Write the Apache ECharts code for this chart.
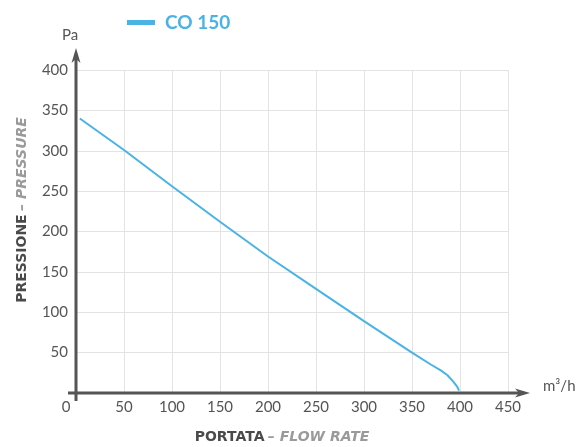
<!DOCTYPE html>
<html>
<head>
<meta charset="utf-8">
<script src="https://cdn.jsdelivr.net/npm/echarts@6/dist/echarts.min.js"></script>
<style>
html,body{margin:0;padding:0;background:#fff;}
#c{width:579px;height:447px;}
</style>
</head>
<body>
<div id="c"></div>
<script>
var seriesName = 'CO 150';
var flowRate = [4, 50, 100, 150, 200, 250, 300, 350, 370, 380, 387, 393, 397, 399];
var pressure = [340, 301, 256, 212, 169, 129, 89, 50, 35, 28, 22, 14, 8, 3];
var xTicks = [0, 50, 100, 150, 200, 250, 300, 350, 400, 450];
var yTicks = [0, 50, 100, 150, 200, 250, 300, 350, 400];
var xUnit = 'm³/h';
var yUnit = 'Pa';
var xTitle = ['PORTATA', '– FLOW RATE'];
var yTitle = ['PRESSIONE', '– PRESSURE'];

var FONT = 'Lato';
var TFONT = 'DejaVu Sans';
var BLUE = '#4ab3e5';
var AX = '#555555';

var chart = echarts.init(document.getElementById('c'));
var option = {
  animation: false,
  backgroundColor: '#ffffff',
  textStyle: {fontFamily: FONT},
  legend: {
    left: 122, top: 8,
    icon: 'rect', itemWidth: 28, itemHeight: 5, itemGap: 10,
    textStyle: {color: BLUE, fontSize: 19, fontWeight: 'bold', fontFamily: FONT, padding: [0, 0, 0, 5]},
    data: [seriesName]
  },
  grid: {left: 76, right: 71, top: 70, bottom: 54, containLabel: false},
  xAxis: {
    type: 'value', min: xTicks[0], max: xTicks[xTicks.length - 1], interval: 50,
    axisLine: {show: false}, axisTick: {show: false},
    splitLine: {show: true, lineStyle: {color: '#e3e3e3', width: 1}},
    axisLabel: {
      color: AX, fontSize: 15, margin: 7, fontFamily: FONT,
      formatter: function (v) { return v === 0 ? '{z|0}' : String(v); },
      rich: {z: {color: AX, fontSize: 15, fontFamily: FONT, padding: [0, 20, 0, 0]}}
    }
  },
  yAxis: {
    type: 'value', min: yTicks[0], max: yTicks[yTicks.length - 1], interval: 50,
    axisLine: {show: false}, axisTick: {show: false},
    splitLine: {show: true, lineStyle: {color: '#e3e3e3', width: 1}},
    axisLabel: {
      color: AX, fontSize: 15, margin: 8, fontFamily: FONT,
      formatter: function (v) { return v === 0 ? '' : String(v); }
    }
  },
  series: [{
    name: seriesName, type: 'line', showSymbol: false, symbol: 'none',
    lineStyle: {color: BLUE, width: 2}, itemStyle: {color: BLUE},
    data: flowRate.map(function (x, i) { return [x, pressure[i]]; })
  }]
};
chart.setOption(option);

var o = chart.convertToPixel({gridIndex: 0}, [0, 0]);
var pTop = chart.convertToPixel({gridIndex: 0}, [0, 400]);
var pRight = chart.convertToPixel({gridIndex: 0}, [450, 0]);
var xEnd = pRight[0] + 22, yEnd = pTop[1] - 22;
var titleRich = {
  a: {fill: '#4a4a4a', fontSize: 14, fontWeight: 'bold', fontFamily: TFONT},
  b: {fill: '#9a9a9a', fontSize: 14, fontWeight: 'bold', fontStyle: 'italic', fontFamily: TFONT}
};
chart.setOption({
  graphic: [
    {type: 'line', shape: {x1: o[0] - 8, y1: o[1], x2: xEnd - 6, y2: o[1]}, style: {stroke: AX, lineWidth: 3}},
    {type: 'line', shape: {x1: o[0], y1: o[1] + 8, x2: o[0], y2: yEnd + 6}, style: {stroke: AX, lineWidth: 3}},
    {type: 'polygon', shape: {points: [[xEnd, o[1]], [xEnd - 15, o[1] - 4.5], [xEnd - 11, o[1]], [xEnd - 15, o[1] + 4.5]]}, style: {fill: AX}},
    {type: 'polygon', shape: {points: [[o[0], yEnd], [o[0] - 4.5, yEnd + 15], [o[0], yEnd + 11], [o[0] + 4.5, yEnd + 15]]}, style: {fill: AX}},
    {type: 'text', x: o[0] - 6, y: yEnd - 5, style: {text: yUnit, fill: AX, fontSize: 15, fontFamily: FONT, align: 'center', verticalAlign: 'bottom'}},
    {type: 'text', x: xEnd + 13, y: o[1] - 7, style: {text: xUnit, fill: AX, fontSize: 15, fontFamily: FONT, align: 'left', verticalAlign: 'middle'}},
    {type: 'text', x: 282, y: 437, style: {
      text: '{a|' + xTitle[0] + '} {b|' + xTitle[1] + '}', align: 'center', verticalAlign: 'middle', rich: titleRich
    }},
    {type: 'text', x: 22, y: 210, rotation: Math.PI / 2, style: {
      text: '{a|' + yTitle[0] + '} {b|' + yTitle[1] + '}', align: 'center', verticalAlign: 'middle', rich: titleRich
    }}
  ]
});
</script>
</body>
</html>
